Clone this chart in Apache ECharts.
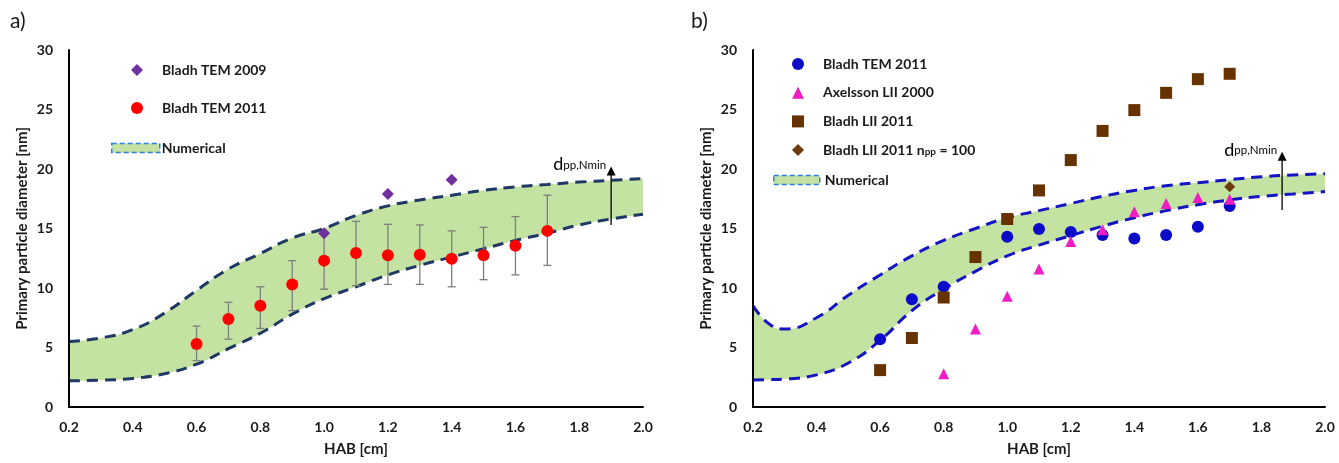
<!DOCTYPE html>
<html><head><meta charset="utf-8">
<script src="https://cdn.jsdelivr.net/npm/echarts/dist/echarts.min.js"></script>
<style>html,body{margin:0;padding:0;background:#fff}#c{width:1339px;height:463px}</style>
</head><body><div id="c"></div><script>
// ---------- Data: panel a ----------
const aTem2009X = [1.0, 1.2, 1.4];
const aTem2009Y = [14.6, 17.9, 19.1];
const aTem2011X = [0.6, 0.7, 0.8, 0.9, 1.0, 1.1, 1.2, 1.3, 1.4, 1.5, 1.6, 1.7];
const aTem2011Y = [5.3, 7.4, 8.5, 10.3, 12.3, 12.95, 12.75, 12.8, 12.45, 12.75, 13.55, 14.8];
const aTem2011Lo = [3.9, 5.7, 6.6, 8.1, 9.9, 10.2, 10.3, 10.3, 10.1, 10.7, 11.1, 11.9];
const aTem2011Hi = [6.8, 8.8, 10.1, 12.3, 14.7, 15.6, 15.35, 15.3, 14.8, 15.1, 16.0, 17.8];
const aBandX = [0.2, 0.3, 0.4, 0.5, 0.6, 0.7, 0.8, 0.9, 1.0, 1.1, 1.2, 1.3, 1.4, 1.5, 1.6, 1.7, 1.8, 1.9, 2.0];
const aUpper = [5.5, 5.8, 6.5, 7.9, 9.8, 11.6, 12.9, 14.2, 15.0, 16.1, 16.9, 17.4, 17.8, 18.2, 18.5, 18.7, 18.9, 19.05, 19.2];
const aLower = [2.2, 2.25, 2.4, 2.8, 3.6, 4.9, 6.2, 7.8, 9.1, 10.1, 11.1, 11.9, 12.6, 13.3, 14.0, 14.6, 15.3, 15.8, 16.2];
const aArrow = [1.9, 15.3, 20.2];

// ---------- Data: panel b ----------
const bTemX = [0.6, 0.7, 0.8, 1.0, 1.1, 1.2, 1.3, 1.4, 1.5, 1.6, 1.7];
const bTemY = [5.7, 9.05, 10.1, 14.3, 14.95, 14.7, 14.45, 14.15, 14.45, 15.15, 16.9];
const bAxX = [0.8, 0.9, 1.0, 1.1, 1.2, 1.3, 1.4, 1.5, 1.6, 1.7];
const bAxY = [2.8, 6.55, 9.3, 11.6, 13.9, 14.9, 16.4, 17.1, 17.6, 17.45];
const bLiiX = [0.6, 0.7, 0.8, 0.9, 1.0, 1.1, 1.2, 1.3, 1.4, 1.5, 1.6, 1.7];
const bLiiY = [3.1, 5.8, 9.2, 12.6, 15.8, 18.2, 20.75, 23.2, 24.95, 26.4, 27.55, 28.0];
const bNppX = [1.7];
const bNppY = [18.5];
const bBandX = [0.2, 0.25, 0.3, 0.4, 0.5, 0.6, 0.7, 0.8, 0.9, 1.0, 1.1, 1.2, 1.3, 1.4, 1.5, 1.6, 1.7, 1.8, 1.9, 2.0];
const bUpper = [8.5, 7.0, 6.55, 7.5, 9.4, 11.1, 12.7, 14.0, 15.0, 15.9, 16.5, 17.1, 17.7, 18.2, 18.6, 18.85, 19.1, 19.35, 19.5, 19.6];
const bLower = [2.27, 2.3, 2.35, 2.7, 3.7, 5.6, 8.1, 9.9, 11.4, 12.7, 13.6, 14.4, 15.2, 15.9, 16.5, 17.0, 17.4, 17.7, 17.9, 18.1];
const bArrow = [1.865, 16.55, 21.45];

// ---------- Tick labels ----------
const xTicks = { min: 0.2, max: 2.0, step: 0.2 };
const yTicks = { min: 0, max: 30, step: 5 };

const FONT = 'Lato';
const TXT = '#1a1a1a';
const GREEN = '#c4e2a2';
const zip = (xs, ys) => xs.map((x, i) => [x, ys[i]]);

function xAxisCfg(gi) {
  return {
    gridIndex: gi, type: 'value', min: xTicks.min, max: xTicks.max, interval: xTicks.step, z: 5,
    axisLine: { show: true, onZero: false, lineStyle: { color: '#000', width: 2 } },
    axisTick: { show: false }, splitLine: { show: false },
    axisLabel: { margin: 13, color: TXT, fontFamily: FONT, fontWeight: 'bold', fontSize: 14,
      formatter: v => v.toFixed(1) },
    name: 'HAB [cm]', nameLocation: 'middle', nameGap: 35,
    nameTextStyle: { color: TXT, fontFamily: FONT, fontWeight: 'bold', fontSize: 15 }
  };
}
function yAxisCfg(gi) {
  return {
    gridIndex: gi, type: 'value', min: yTicks.min, max: yTicks.max, interval: yTicks.step, z: 5,
    axisLine: { show: true, onZero: false, lineStyle: { color: '#000', width: 2 } },
    axisTick: { show: false }, splitLine: { show: false },
    axisLabel: { margin: 16, color: TXT, fontFamily: FONT, fontWeight: 'bold', fontSize: 14 },
    name: 'Primary particle diameter [nm]', nameLocation: 'middle', nameGap: 39,
    nameTextStyle: { color: TXT, fontFamily: FONT, fontWeight: 'bold', fontSize: 15 }
  };
}

function errRender(params, api) {
  const x = api.value(0), lo = api.value(1), hi = api.value(2);
  const a = api.coord([x, lo]), b = api.coord([x, hi]);
  const w = 4, st = { stroke: '#7f7f7f', lineWidth: 1.3 };
  return { type: 'group', children: [
    { type: 'line', shape: { x1: a[0], y1: a[1], x2: b[0], y2: b[1] }, style: st },
    { type: 'line', shape: { x1: a[0] - w, y1: a[1], x2: a[0] + w, y2: a[1] }, style: st },
    { type: 'line', shape: { x1: b[0] - w, y1: b[1], x2: b[0] + w, y2: b[1] }, style: st }
  ]};
}
function arrowRender(params, api) {
  const x = api.value(0), y0 = api.value(1), y1 = api.value(2);
  const a = api.coord([x, y0]), b = api.coord([x, y1]);
  return { type: 'group', children: [
    { type: 'line', shape: { x1: a[0], y1: a[1], x2: b[0], y2: b[1] + 8 }, style: { stroke: '#000', lineWidth: 1.3 } },
    { type: 'polygon', shape: { points: [[b[0], b[1]], [b[0] - 4.5, b[1] + 9], [b[0] + 4.5, b[1] + 9]] }, style: { fill: '#000' } },
    { type: 'text', x: b[0] - 5, y: b[1] - 3, style: {
      text: '{d|d}{s|pp,Nmin}', align: 'right', verticalAlign: 'middle',
      rich: {
        d: { fontFamily: FONT, fontSize: 18, color: '#222', lineHeight: 16, verticalAlign: 'top' },
        s: { fontFamily: FONT, fontSize: 11.5, color: '#222', lineHeight: 11, padding: [11, 0, 0, 0], verticalAlign: 'bottom' }
      } } }
  ]};
}

function bandSeries(xi, xs, up, lo, lineColor, key) {
  const dash = { color: lineColor, width: 3, type: [11, 7] };
  return [
    { name: 'Numerical', type: 'line', xAxisIndex: xi, yAxisIndex: xi, smooth: true,
      symbol: 'none', data: zip(xs, up), lineStyle: dash,
      areaStyle: { color: GREEN, opacity: 1 }, z: 1, silent: true },
    { name: 'lower-' + key, type: 'line', xAxisIndex: xi, yAxisIndex: xi, smooth: true,
      symbol: 'none', data: zip(xs, lo), lineStyle: dash,
      areaStyle: { color: '#ffffff', opacity: 1 }, z: 2, silent: true }
  ];
}

const legText = { fontFamily: FONT, fontWeight: 'bold', fontSize: 14, color: TXT, lineHeight: 14 };
const numLegendItem = { name: 'Numerical', icon: 'rect',
  itemStyle: { color: GREEN, borderColor: '#2f7ed8', borderWidth: 1.5, borderType: [5, 3] } };

const option = {
  animation: false,
  backgroundColor: '#fff',
  grid: [
    { left: 69, top: 50, width: 574, height: 357, outerBoundsMode: 'none' },
    { left: 753, top: 50, width: 572, height: 357, outerBoundsMode: 'none' }
  ],
  xAxis: [xAxisCfg(0), xAxisCfg(1)],
  yAxis: [yAxisCfg(0), yAxisCfg(1)],
  legend: [
    { data: ['Bladh TEM 2009', 'Bladh TEM 2011'], orient: 'vertical', left: 126, top: 58, padding: 5,
      itemWidth: 12, itemHeight: 12, itemGap: 24, selectedMode: false,
      textStyle: Object.assign({ padding: [0, 0, 0, 14] }, legText) },
    { data: [numLegendItem], orient: 'vertical', left: 106, top: 136, padding: 5,
      itemWidth: 48, itemHeight: 9, selectedMode: false, textStyle: Object.assign({}, legText, { padding: [0, 0, 0, -3] }) },
    { data: ['Bladh TEM 2011 ', 'Axelsson LII 2000', 'Bladh LII 2011'],
      orient: 'vertical', left: 787, top: 52, padding: 5, itemWidth: 12, itemHeight: 12, itemGap: 14.7, selectedMode: false,
      textStyle: Object.assign({ padding: [0, 0, 0, 14] }, legText) },
    { data: ['Bladh LII 2011 npp = 100'],
      orient: 'vertical', left: 787, top: 132, padding: 5, itemWidth: 12, itemHeight: 12, selectedMode: false,
      formatter: () => 'Bladh LII 2011 n{s|pp} = 100',
      textStyle: Object.assign({ padding: [0, 0, 0, 14],
        rich: { s: { fontFamily: FONT, fontWeight: 'bold', fontSize: 10, color: TXT, lineHeight: 7, padding: [10, 0, 0, 0], verticalAlign: 'bottom' } } }, legText) },
    { data: [numLegendItem], orient: 'vertical', left: 768, top: 168, padding: 5,
      itemWidth: 46, itemHeight: 9, selectedMode: false, textStyle: Object.assign({}, legText) }
  ],
  graphic: [
    { type: 'text', left: 10, top: 11, style: { text: 'a)', fontFamily: FONT, fontSize: 21, fill: TXT } },
    { type: 'text', left: 691, top: 11, style: { text: 'b)', fontFamily: FONT, fontSize: 21, fill: TXT } }
  ],
  series: [
    ...bandSeries(0, aBandX, aUpper, aLower, '#1f3864', 'a'),
    { type: 'custom', xAxisIndex: 0, yAxisIndex: 0, renderItem: errRender, z: 4, silent: true,
      encode: { x: 0, y: [1, 2] },
      data: aTem2011X.map((x, i) => [x, aTem2011Lo[i], aTem2011Hi[i]]) },
    { name: 'Bladh TEM 2009', type: 'scatter', xAxisIndex: 0, yAxisIndex: 0, symbol: 'diamond', symbolSize: 12,
      itemStyle: { color: '#7030a0', opacity: 1 }, data: zip(aTem2009X, aTem2009Y), z: 6 },
    { name: 'Bladh TEM 2011', type: 'scatter', xAxisIndex: 0, yAxisIndex: 0, symbol: 'circle', symbolSize: 12,
      itemStyle: { color: '#ff0000', opacity: 1 }, data: zip(aTem2011X, aTem2011Y), z: 6 },
    { type: 'custom', xAxisIndex: 0, yAxisIndex: 0, renderItem: arrowRender, z: 7, silent: true,
      encode: { x: 0, y: [1, 2] }, data: [aArrow] },

    ...bandSeries(1, bBandX, bUpper, bLower, '#1414c4', 'b'),
    { name: 'Bladh TEM 2011 ', type: 'scatter', xAxisIndex: 1, yAxisIndex: 1, symbol: 'circle', symbolSize: 12,
      itemStyle: { color: '#0a0ac8', opacity: 1 }, data: zip(bTemX, bTemY), z: 6 },
    { name: 'Axelsson LII 2000', type: 'scatter', xAxisIndex: 1, yAxisIndex: 1, symbol: 'triangle', symbolSize: 11,
      itemStyle: { color: '#f01cc4', opacity: 1 }, data: zip(bAxX, bAxY), z: 6 },
    { name: 'Bladh LII 2011', type: 'scatter', xAxisIndex: 1, yAxisIndex: 1, symbol: 'rect', symbolSize: 12,
      itemStyle: { color: '#663300', opacity: 1 }, data: zip(bLiiX, bLiiY), z: 6 },
    { name: 'Bladh LII 2011 npp = 100', type: 'scatter', xAxisIndex: 1, yAxisIndex: 1, symbol: 'diamond', symbolSize: 11,
      itemStyle: { color: '#6e3a0e', opacity: 1 }, data: zip(bNppX, bNppY), z: 6 },
    { type: 'custom', xAxisIndex: 1, yAxisIndex: 1, renderItem: arrowRender, z: 7, silent: true,
      encode: { x: 0, y: [1, 2] }, data: [bArrow] }
  ]
};
const chart = echarts.init(document.getElementById('c'), null, { renderer: 'canvas' });
chart.setOption(option);
</script></body></html>
